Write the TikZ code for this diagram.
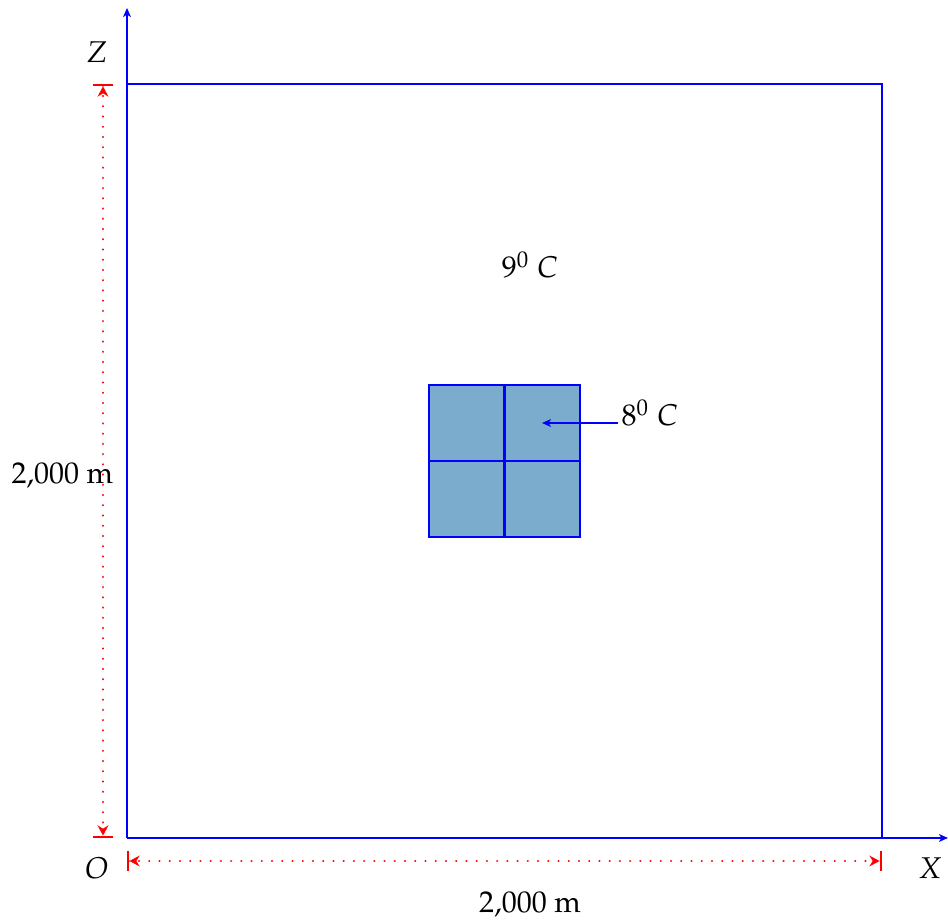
\documentclass[tikz,border=0pt]{standalone}
\usepackage[T1]{fontenc}
\usepackage{mathpazo}
\usetikzlibrary{arrows.meta}
\definecolor{cellfill}{RGB}{123,172,206}
\tikzset{
  axisline/.style={blue, line width=0.7pt},
  gridline/.style={blue, line width=0.7pt},
  dimline/.style={red, line width=0.8pt, dash pattern=on 0.01pt off 3.4pt, line cap=round,
    {Bar[width=6.8pt,line cap=butt]Stealth[length=3.4pt,width=3.6pt,inset=1.1pt]}-{Stealth[length=3.4pt,width=3.6pt,inset=1.1pt]Bar[width=6.8pt,line cap=butt]}},
  lbl/.style={inner sep=0pt, font=\fontsize{10}{12}\selectfont},
  ptr/.style={blue, line width=0.7pt, -{Stealth[length=3pt,width=2.6pt,inset=0.8pt]}}
}
\begin{document}
\begin{tikzpicture}[x=0.3333pt, y=-0.3333pt]
\useasboundingbox (0,0) rectangle (948,922);
% corners
\coordinate (O) at (127,838);
\coordinate (TL) at (127,84);
\coordinate (TR) at (882,84);
\coordinate (BR) at (882,838);
\coordinate (Ztip) at (127,8);
\coordinate (Xtip) at (948,838);
% inner block
\coordinate (a) at (429,385);
\coordinate (b) at (580,537);
\coordinate (m) at (504.5,461);
\fill[cellfill] (a) rectangle (b);
\draw[gridline] (a) rectangle (b);
\draw[gridline] (m |- a) -- (m |- b);
\draw[gridline] (a |- m) -- (b |- m);
% outer box and axes
\draw[axisline] (TL) -- (TR) -- (BR);
\draw[axisline, -{Stealth[length=3pt,width=2.6pt,inset=0.8pt]}] (O) -- (Ztip);
\draw[axisline, -{Stealth[length=3pt,width=2.6pt,inset=0.8pt]}] (O) -- (Xtip);
% dimensions
\coordinate (dv1) at (103,84);
\coordinate (dv2) at (103,838);
\coordinate (dh1) at (127,861);
\coordinate (dh2) at (882,861);
\draw[dimline] (dv1) -- (dv2);
\draw[dimline] (dh1) -- (dh2);
% labels
\node[lbl] (zl) at (97,52) {$Z$};
\node[lbl] (ol) at (97,868) {$O$};
\node[lbl] (xl) at (930,868) {$X$};
\node[lbl, anchor=west] (hl) at (11,476) {2,000 m};
\node[lbl] (wl) at (530,905) {2,000 m};
\node[lbl] (t9) at (530,265) {$9^0$ $C$};
\node[lbl, anchor=west] (t8) at (621,413) {$8^0$ $C$};
\coordinate (p8) at (542,423);
\draw[ptr] (t8.west |- p8) ++(-3,0) -- (p8);
\end{tikzpicture}
\end{document}
